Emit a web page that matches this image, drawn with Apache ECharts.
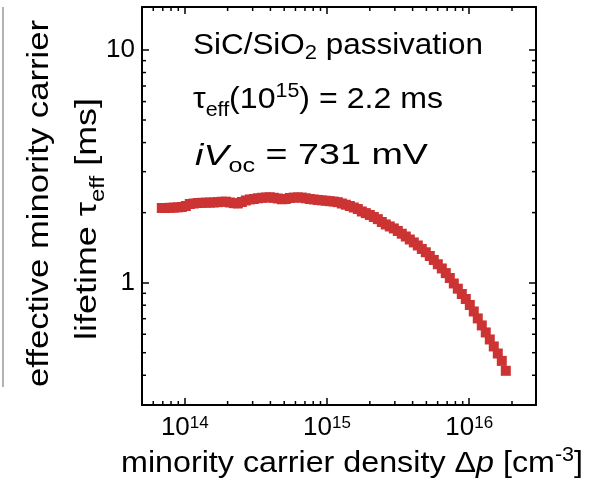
<!DOCTYPE html>
<html><head><meta charset="utf-8">
<script src="https://cdn.jsdelivr.net/npm/echarts@6/dist/echarts.min.js"></script>
<style>html,body{margin:0;padding:0;background:#fff;} #c{width:591px;height:492px;}</style>
</head><body><div id="c"></div>
<script>
// ---- data ----
const densityX = [
  6.89e13, 7.35e13, 7.84e13, 8.37e13, 8.93e13, 9.53e13, 1.017e14, 1.084e14, 1.157e14, 1.234e14,
  1.317e14, 1.405e14, 1.500e14, 1.600e14, 1.707e14, 1.821e14, 1.943e14, 2.073e14, 2.212e14, 2.360e14,
  2.518e14, 2.686e14, 2.865e14, 3.057e14, 3.262e14, 3.480e14, 3.713e14, 3.962e14, 4.227e14, 4.509e14,
  4.811e14, 5.133e14, 5.476e14, 5.843e14, 6.234e14, 6.650e14, 7.094e14, 7.570e14, 8.076e14, 8.616e14,
  9.194e14, 9.808e14, 1.046e15, 1.116e15, 1.191e15, 1.271e15, 1.356e15, 1.447e15, 1.543e15, 1.647e15,
  1.757e15, 1.874e15, 2.000e15, 2.134e15, 2.277e15, 2.429e15, 2.591e15, 2.764e15, 2.950e15, 3.147e15,
  3.357e15, 3.582e15, 3.822e15, 4.078e15, 4.350e15, 4.642e15, 4.952e15, 5.283e15, 5.638e15, 6.015e15,
  6.417e15, 6.845e15, 7.305e15, 7.793e15, 8.314e15, 8.872e15, 9.465e15, 1.010e16, 1.077e16, 1.149e16,
  1.226e16, 1.308e16, 1.396e16, 1.489e16, 1.589e16, 1.695e16, 1.809e16
];
const lifetimeMs = [
  2.094, 2.094, 2.098, 2.102, 2.106, 2.114, 2.135, 2.178, 2.189, 2.200,
  2.204, 2.207, 2.209, 2.211, 2.218, 2.227, 2.229, 2.211, 2.196, 2.189,
  2.222, 2.255, 2.278, 2.289, 2.305, 2.316, 2.323, 2.328, 2.316, 2.300,
  2.282, 2.289, 2.312, 2.321, 2.325, 2.321, 2.305, 2.289, 2.278, 2.267,
  2.258, 2.249, 2.240, 2.231, 2.218, 2.189, 2.163, 2.135, 2.104, 2.073,
  2.023, 1.990, 1.954, 1.916, 1.875, 1.823, 1.779, 1.744, 1.710, 1.668,
  1.623, 1.579, 1.533, 1.489, 1.445, 1.396, 1.351, 1.302, 1.252, 1.200,
  1.151, 1.099, 1.047, 0.992, 0.942, 0.894, 0.851, 0.802, 0.752, 0.702,
  0.655, 0.611, 0.570, 0.532, 0.496, 0.461, 0.418
];
const xMajorExponents = [14, 15, 16];
const yMajorLabels = [1, 10];
const xMinorTicks = [6e13, 7e13, 8e13, 9e13, 2e14, 3e14, 4e14, 5e14, 6e14, 7e14, 8e14, 9e14,
  2e15, 3e15, 4e15, 5e15, 6e15, 7e15, 8e15, 9e15, 2e16];
const yMinorTicks = [0.4, 0.5, 0.6, 0.7, 0.8, 0.9, 2, 3, 4, 5, 6, 7, 8, 9];
const X_MIN = 5e13, X_MAX = 2.95e16, Y_MIN = 0.298, Y_MAX = 15.3;

// ---- text helpers ----
const FONT = '"Liberation Sans", Arial, sans-serif';
const mctx = document.createElement('canvas').getContext('2d');
function fontStr(f) { return (f.it ? 'italic ' : '') + f.s + 'px ' + FONT; }
function textLine(frags, opt) {
  let w = 0;
  frags.forEach(f => { mctx.font = fontStr(f); f.w = mctx.measureText(f.t).width; w += f.w; });
  const sx = opt.width ? opt.width / w : 1;
  let cx = opt.anchor === 'center' ? -w / 2 : 0;
  const children = frags.map(f => {
    const el = {
      type: 'text', x: cx, y: (f.dy || 0) - 0.35 * f.s,
      style: { text: f.t, font: fontStr(f), fill: '#000', align: 'left', verticalAlign: 'middle' }
    };
    cx += f.w;
    return el;
  });
  return { type: 'group', x: opt.x, y: opt.y, rotation: opt.rot || 0, scaleX: sx, children: children };
}

const graphics = [
  { type: 'line', shape: { x1: 3, y1: 7, x2: 3, y2: 387 }, style: { stroke: '#9a9a9a', lineWidth: 1.5 } },
  textLine([{ t: 'minority carrier density Δ', s: 30 }, { t: 'p', s: 30, it: true }, { t: ' [cm', s: 30 },
            { t: '-3', s: 20, dy: -12 }, { t: ']', s: 30 }], { x: 121, y: 474, width: 462 }),
  textLine([{ t: 'effective minority carrier', s: 30 }], { x: 50, y: 203.5, width: 367, anchor: 'center', rot: Math.PI / 2 }),
  textLine([{ t: 'lifetime τ', s: 30 }, { t: 'eff', s: 20, dy: 7 }, { t: ' [ms]', s: 30 }],
           { x: 98, y: 219, width: 242, anchor: 'center', rot: Math.PI / 2 }),
  textLine([{ t: 'SiC/SiO', s: 30 }, { t: '2', s: 21, dy: 4 }, { t: ' passivation', s: 30 }], { x: 193, y: 56.7, width: 290 }),
  textLine([{ t: 'τ', s: 30 }, { t: 'eff', s: 20, dy: 7 }, { t: '(10', s: 30 }, { t: '15', s: 20, dy: -12 },
            { t: ') = 2.2 ms', s: 30 }], { x: 193, y: 110, width: 250 }),
  textLine([{ t: 'i', s: 30, it: true }, { t: 'V', s: 30, it: true }, { t: 'oc', s: 20, dy: 7 }, { t: ' = 731 mV', s: 30 }],
           { x: 195, y: 166.7, width: 233 })
];

const axisLineStyle = { show: true, lineStyle: { color: '#000', width: 2 } };
const majorTick = { show: true, inside: true, length: 7, lineStyle: { color: '#000', width: 1.5 } };

function xLabel(v) {
  const l = Math.log10(v), e = Math.round(l);
  if (Math.abs(l - e) > 1e-6 || xMajorExponents.indexOf(e) < 0) return '';
  return '{b|10}{s|' + e + '}';
}
function yLabel(v) {
  const l = Math.log10(v), e = Math.round(l);
  if (Math.abs(l - e) > 1e-6) return '';
  const r = Math.pow(10, e);
  return yMajorLabels.indexOf(r) >= 0 ? String(r) : '';
}

const chart = echarts.init(document.getElementById('c'), null, { renderer: 'canvas' });
chart.setOption({
  animation: false,
  backgroundColor: '#fff',
  grid: { left: 142, right: 55, top: 7, bottom: 87, containLabel: false, outerBoundsMode: 'none' },
  xAxis: [
    { type: 'log', logBase: 10, min: X_MIN, max: X_MAX, position: 'bottom',
      axisLine: axisLineStyle, axisTick: majorTick, splitLine: { show: false }, minorTick: { show: false },
      axisLabel: { show: true, margin: 10, formatter: xLabel, color: '#000', showMinLabel: true, showMaxLabel: true,
        rich: { b: { fontSize: 26, fontFamily: FONT, color: '#000' },
                s: { fontSize: 17, fontFamily: FONT, color: '#000', verticalAlign: 'top' } } } },
    { type: 'log', logBase: 10, min: X_MIN, max: X_MAX, position: 'top',
      axisLine: axisLineStyle, axisTick: majorTick, splitLine: { show: false }, axisLabel: { show: false } }
  ],
  yAxis: [
    { type: 'log', logBase: 10, min: Y_MIN, max: Y_MAX, position: 'left',
      axisLine: axisLineStyle, axisTick: majorTick, splitLine: { show: false }, minorTick: { show: false },
      axisLabel: { show: true, margin: 7, formatter: yLabel, color: '#000', fontSize: 26, fontFamily: FONT } },
    { type: 'log', logBase: 10, min: Y_MIN, max: Y_MAX, position: 'right',
      axisLine: axisLineStyle, axisTick: majorTick, splitLine: { show: false }, axisLabel: { show: false } }
  ],
  series: [
    { type: 'custom', xAxisIndex: 0, yAxisIndex: 0, silent: true, z: 3,
      data: xMinorTicks.map(v => [v, Y_MIN]),
      renderItem: function (params, api) {
        const v = api.value(0);
        const pb = api.coord([v, Y_MIN]), pt = api.coord([v, Y_MAX]);
        const st = { stroke: '#000', lineWidth: 1.5 };
        return { type: 'group', children: [
          { type: 'line', shape: { x1: pb[0], y1: pb[1], x2: pb[0], y2: pb[1] - 4 }, style: st },
          { type: 'line', shape: { x1: pt[0], y1: pt[1], x2: pt[0], y2: pt[1] + 4 }, style: st }
        ] };
      } },
    { type: 'custom', xAxisIndex: 0, yAxisIndex: 0, silent: true, z: 3,
      data: yMinorTicks.map(v => [X_MIN, v]),
      renderItem: function (params, api) {
        const v = api.value(1);
        const pl = api.coord([X_MIN, v]), pr = api.coord([X_MAX, v]);
        const st = { stroke: '#000', lineWidth: 1.5 };
        return { type: 'group', children: [
          { type: 'line', shape: { x1: pl[0], y1: pl[1], x2: pl[0] + 4, y2: pl[1] }, style: st },
          { type: 'line', shape: { x1: pr[0], y1: pr[1], x2: pr[0] - 4, y2: pr[1] }, style: st }
        ] };
      } },
    { type: 'scatter', xAxisIndex: 0, yAxisIndex: 0, z: 5, large: false,
      symbol: 'rect', symbolSize: 10,
      itemStyle: { color: '#cc3333', opacity: 1, borderWidth: 0 },
      emphasis: { disabled: true },
      data: densityX.map((x, i) => [x, lifetimeMs[i]]) }
  ],
  graphic: graphics
});
</script>
</body></html>
